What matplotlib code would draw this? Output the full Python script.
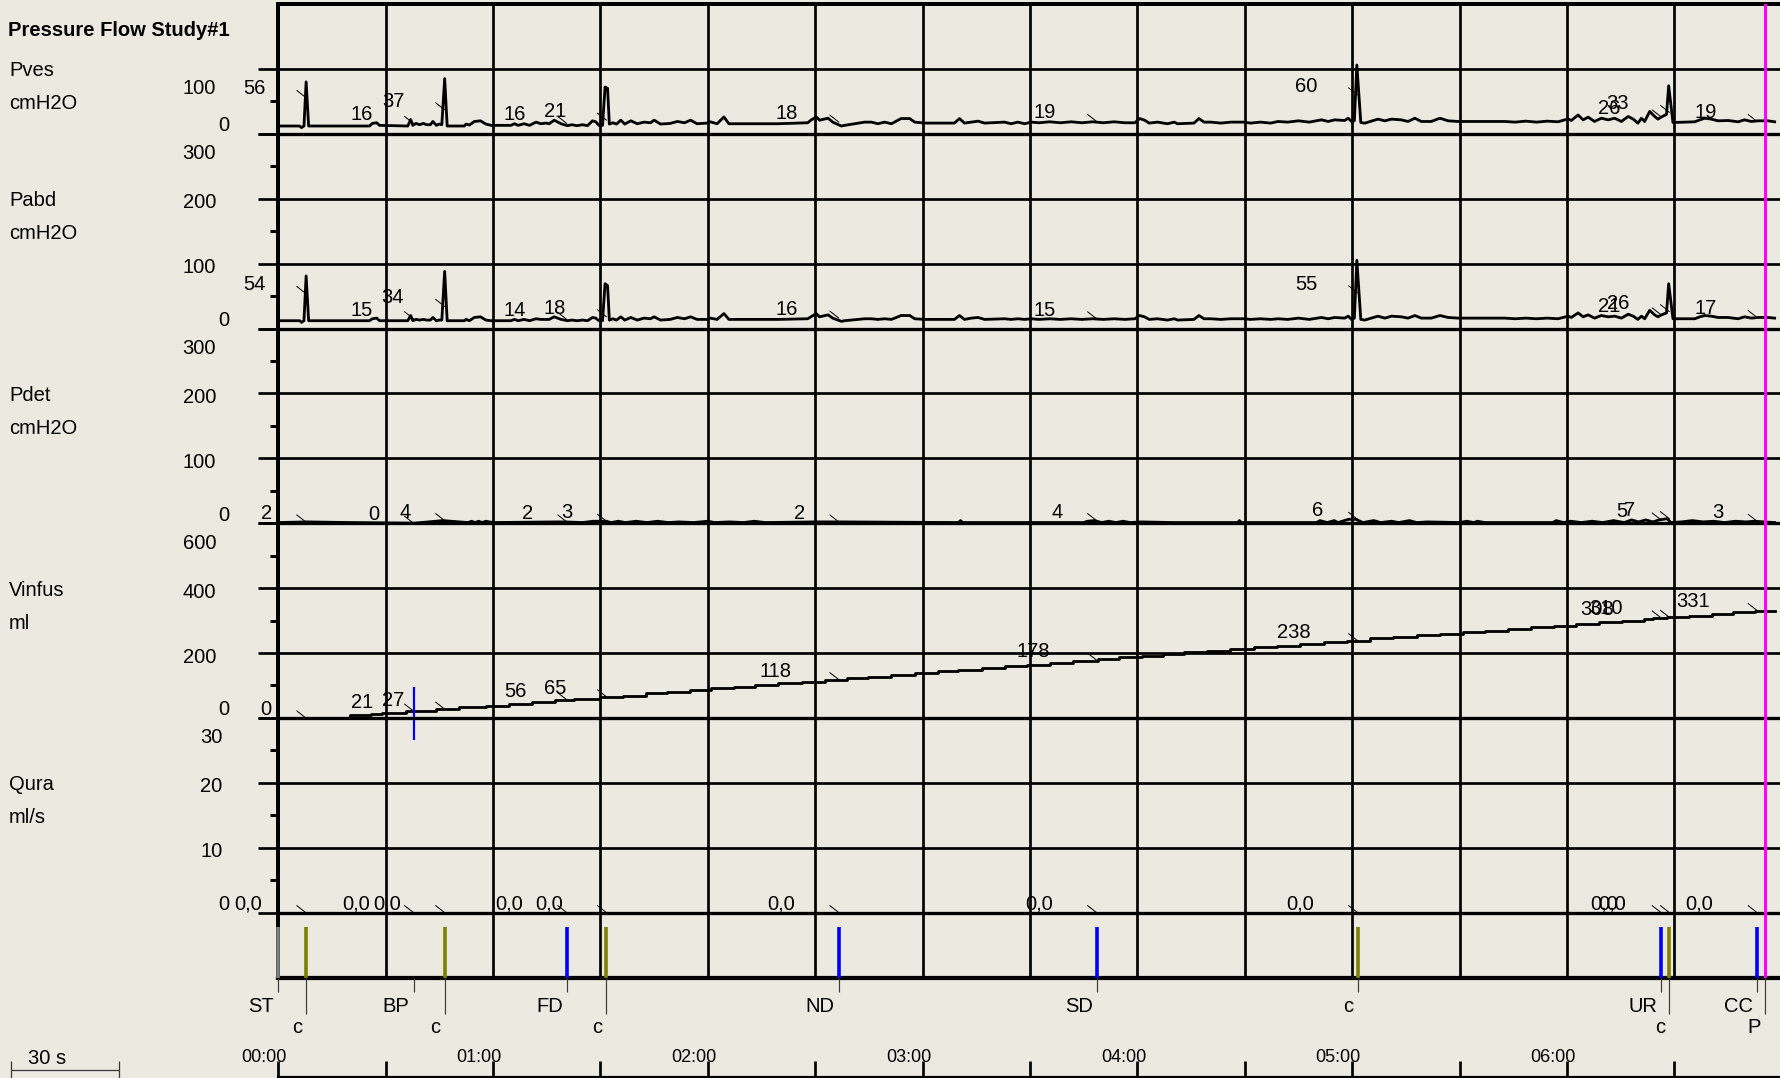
import matplotlib
matplotlib.use("Agg")
import matplotlib.pyplot as plt

# ---- event marks (s from start) ----
EVENT_T = [0, 7.7, 37.8, 46.5, 80.6, 91.7, 156.6, 228.6, 301.5, 386.3, 388.6, 413.1, 415.3]
EVENT_CODE = ["ST", "c", "BP", "c", "FD", "c", "ND", "SD", "c", "UR", "c", "CC", "P"]

# values printed at each event (ST and P carry none)
PVES_AT = ["56", "16", "37", "16", "21", "18", "19", "60", "26", "33", "19"]
PABD_AT = ["54", "15", "34", "14", "18", "16", "15", "55", "21", "26", "17"]
PDET_AT = ["2", "0", "4", "2", "3", "2", "4", "6", "5", "7", "3"]
VINFUS_AT = ["0", "21", "27", "56", "65", "118", "178", "238", "308", "310", "331"]
QURA_AT = ["0,0", "0,0", "0,0", "0,0", "0,0", "0,0", "0,0", "0,0", "0,0", "0,0", "0,0"]

# ---- traces ----
T_PRESS = [0, 6.0, 6.5, 7.2, 7.8, 8.5, 25.5, 26.3, 27.5, 28.3, 36.2, 37.0, 37.6, 38.5, 39.5,
           40.5, 41.5, 42.5, 43.2, 44.2, 45.0, 45.7, 46.5, 47.2, 52.0, 52.5, 53.4, 54.8, 56.5,
           58.0, 59.5, 65.0, 66.0, 67.0, 68.7, 70.2, 72.0, 73.4, 74.8, 75.7, 77.1, 79.0, 80.8,
           82.0, 83.5, 85.0, 86.4, 87.8, 88.7, 89.6, 90.6, 91.3, 92.0, 92.5, 93.5, 94.5, 95.7,
           96.8, 98.5, 100.3, 102.2, 104.0, 105.0, 106.8, 109.5, 111.5, 113.5, 115.2, 117.0,
           119.8, 120.7, 122.6, 124.5, 125.9, 139.6,
           147.9, 148.8, 150.3, 151.2, 153.6, 154.9, 157.3, 158.2, 163.8, 165.7, 167.5, 169.4,
           171.3, 174.0, 176.4, 177.8, 180.6, 188.9, 190.3, 191.7, 193.6, 195.5, 197.3, 202.9,
           204.7, 206.6, 208.5, 210.3, 212.5, 215.5, 218.5, 221.5, 224.5, 227.5, 230.5, 233.5,
           236.5, 239.3, 240.6, 242.0, 243.3, 245.6, 248.4, 250.3, 251.2, 255.8, 257.2, 258.6,
           260.5, 263.3, 266.1, 269.8, 271.6, 274.4, 277.2, 279.3,
           282.0, 285.0, 288.0, 291.4, 293.3, 295.1, 297.9, 298.9, 299.8, 300.6, 301.3, 302.4,
           303.5, 307.2, 309.1, 311.0, 313.7, 315.6, 317.5, 319.3, 322.1, 324.5, 326.8, 329.6,
           342.6, 345.5, 348.5, 351.5, 354.5, 357.5, 360.3, 361.2, 363.1, 364.5, 365.9, 367.7,
           369.6, 371.5, 373.3, 375.2, 377.1, 378.5, 379.8, 380.8, 381.7, 383.1, 384.5, 385.4,
           386.4, 387.8, 388.4, 389.6, 395.7, 397.1, 398.5, 400.3, 402.2, 405.0, 407.8, 409.6,
           411.5, 413.4, 416.1, 418.0]
PVES = [12, 12, 9.5, 12, 80, 12, 12, 16, 17, 13, 12, 22, 13, 16, 14,
        16, 14, 14, 19, 13, 15, 14, 85, 12, 12, 15, 13.5, 19, 20,
        15, 13, 13, 15.5, 13, 15.5, 13, 18, 15.5, 16.5, 15.5, 21, 15.5, 12.5,
        14, 12.5, 14, 12.5, 20, 18.5, 13, 13, 72, 70, 15, 17, 15, 21,
        15, 20, 15.5, 18, 17, 21, 15, 16, 19, 17, 21, 15.5,
        16.5, 18.5, 15.5, 26, 15.5, 15.5,
        17, 21, 26, 21, 24, 18, 12, 13, 18, 18, 15.5, 18,
        15.5, 23.5, 23.5, 18, 16.5, 16.5, 23.5, 16.5, 18, 19.5, 16.5, 18,
        15.5, 18, 15.5, 18, 17, 18.5, 17, 18.5, 17, 18.5, 17, 18.5,
        17, 17, 23.5, 21, 16.5, 18, 15.5, 18, 15.5, 16.5, 23.5, 18,
        18, 16.5, 18, 18, 16.5, 18, 16.5, 19,
        18, 20, 18, 21.5, 19, 21.5, 20.5, 24, 19, 20, 106, 17.4,
        16.4, 22.6, 20, 22.6, 21.5, 19, 24, 19, 19, 24, 20, 19,
        19, 18, 19.5, 18, 19.5, 18.5, 23, 20.5, 29, 21.5, 25.6, 19,
        24, 21.5, 24, 19, 26.7, 22.6, 16.4, 24, 19, 34.4, 26.7, 22.6,
        26, 30, 74, 17.4, 18.5, 21.5, 24, 22.6, 20, 20.5, 18.5, 21.5,
        19, 20, 20, 18.5]
PABD = [12, 12, 9.5, 12, 81, 12, 12, 15, 16, 12, 12, 20, 12, 14, 13,
        14, 13, 13, 17, 12, 13, 13, 88, 12, 12, 14, 12, 17, 18,
        13, 12, 12, 14, 12, 14, 12, 15, 14, 14, 14, 18, 14, 12,
        13, 12, 13, 12, 17, 16, 12, 12, 69, 66, 13, 15, 13, 18,
        13, 17, 13, 16, 15, 18, 13, 14, 17, 15, 18, 14,
        14, 16, 14, 23, 14, 14,
        15, 18, 23, 18, 21, 16, 11, 12, 15, 15, 14, 15,
        14, 20, 20, 15, 14, 14, 20, 14, 16, 17, 14, 15,
        14, 15, 14, 15, 14, 15, 14, 15, 14, 15, 14, 15,
        14, 15, 20, 18, 14, 15, 13, 15, 13, 14, 20, 15,
        15, 14, 15, 15, 14, 15, 14, 15,
        14, 16, 14, 17, 15, 17, 16, 19, 14, 16, 105, 14,
        13, 19, 16, 19, 18, 16, 20, 16, 16, 20, 17, 16,
        16, 15, 16, 15, 16, 15, 19, 17, 24, 18, 21, 16,
        20, 18, 19, 16, 22, 19, 14, 19, 15, 28, 21, 18,
        21, 24, 69, 15, 15, 18, 20, 19, 17, 17, 15, 18,
        16, 17, 17, 16]

T_PDET = [0, 8, 20, 38, 46, 53, 54, 55, 56, 57, 58, 60, 78, 80, 85, 88, 91.6, 93, 95, 97, 100,
          103, 106, 109, 112, 116, 120, 122, 126, 130, 133, 136, 150, 157, 190, 190.6, 191.2,
          225, 226, 228, 230, 232, 234, 236, 238, 241, 250, 268, 268.5, 269, 290, 291, 293, 295,
          296, 299, 301, 303, 306, 308, 311, 313, 316, 318, 321, 330, 332, 334, 335, 337, 356,
          357, 359, 361, 364, 367, 370, 373, 376, 378, 380, 382, 384, 385.7, 388, 389, 392, 395,
          398, 401, 404, 407, 410, 412.4, 415, 418]
PDET = [1, 2, 1, 0, 4, 1, 3, 1, 3, 1, 3, 1, 2, 2, 1, 3, 3, 1, 3, 1, 3,
        1, 3, 1, 2, 1, 3, 1, 2, 1, 3, 1, 2, 2, 1, 4, 1,
        1, 3, 4, 1, 3, 1, 3, 1, 2, 1, 1, 4, 1, 1, 4, 1, 4,
        1, 6, 6, 1, 4, 1, 3, 1, 4, 1, 2, 1, 3, 1, 3, 1, 1,
        4, 1, 3, 1, 3, 1, 4, 1, 5, 2, 5, 2, 5, 7, 1, 2, 4,
        2, 3, 1, 3, 2, 3, 2, 1]

T_VINFUS = [0, 20, 26, 29, 35.6, 44, 50.5, 58, 64.4, 70.8, 77.2, 82.5, 89.8, 96.2, 102.6, 108.5,
            114.9, 120.8, 127.2, 133.1, 139.5, 146.4, 152.8, 159, 164.8, 171.2, 177.8, 184.2,
            190, 196.5, 202.9, 209.3, 215.7, 222, 229, 234.9, 241.3, 247.2, 253, 259.5, 266,
            272.5, 279, 285.5, 292, 298.5, 305, 311.5, 318, 324.5, 331, 337, 343.5, 350, 356.5,
            362.5, 369, 375.5, 381.5, 384, 388, 394, 400.5, 406.5, 412.5, 418]
VINFUS = [0, 8, 12, 16, 21, 28, 33, 38, 43, 48, 55, 59, 65, 69, 76, 81,
          86, 91, 96, 101.5, 108, 112, 117, 122, 127, 132, 137, 143,
          148, 153, 159, 164, 169, 176, 181, 187, 192, 197, 202, 207, 212,
          217, 222, 228, 233, 238, 245, 250, 255, 259, 264, 269, 274, 279, 284,
          289, 294, 299, 305, 308, 311, 315, 320, 325, 329, 329]

T_QURA = [0, 418]
QURA = [0, 0]

CH_NAME = ["Pves", "Pabd", "Pdet", "Vinfus", "Qura"]
CH_UNIT = ["cmH2O", "cmH2O", "cmH2O", "ml", "ml/s"]
CH_TOP = [100, 300, 300, 600, 30]
CH_STEP = [100, 100, 100, 200, 10]

assert len(T_PRESS) == len(PVES) == len(PABD)
assert len(T_PDET) == len(PDET)
assert len(T_VINFUS) == len(VINFUS)

# ---- layout (pixels of the 1781x1078 picture) ----
BG = "#ECE9E0"
W, H, DPI = 1781, 1078, 100
X0, PX_S = 278.2, 3.58          # left frame, pixels per second
Y0, ROW = 4.0, 64.9             # top frame, height of one grid row
T_END = (W - X0) / PX_S
PT = 72 / DPI                   # points per pixel
FS = 14.5

plt.rcParams["font.family"] = ["Liberation Sans", "DejaVu Sans"]
plt.rcParams["font.size"] = FS

fig = plt.figure(figsize=(W / DPI, H / DPI), dpi=DPI, facecolor=BG)


def px_axes(left, top, right, bottom, z=1):
    ax = fig.add_axes([left / W, 1 - bottom / H, (right - left) / W, (bottom - top) / H], zorder=z)
    ax.patch.set_visible(False)
    for s in ax.spines.values():
        s.set_visible(False)
    ax.set_xticks([])
    ax.set_yticks([])
    ax.set_xlim(0, T_END)
    return ax


def label_w(s):
    # rough printed width in px of a value label
    return sum(5.5 if ch == "," else 11.5 for ch in s)


# background grid
grid = px_axes(X0, Y0, W, Y0 + 15 * ROW)
grid.set_ylim(15, 0)
t = 30
while t < T_END:
    grid.axvline(t, color="k", lw=2.7 * PT)
    t += 30
grid.axvline(0, color="k", lw=4 * PT, clip_on=False)
grid.axhline(0, color="k", lw=4 * PT, clip_on=False)
grid.axhline(15, color="k", lw=4.2 * PT, clip_on=False)

fig.text(8.4 / W, 1 - 30 / H, "Pressure Flow Study#1", fontweight="bold", ha="left", va="center")

marked_t = [t for t, c in zip(EVENT_T, EVENT_CODE) if c not in ("ST", "P")]
traces = [(T_PRESS, PVES, PVES_AT), (T_PRESS, PABD, PABD_AT), (T_PDET, PDET, PDET_AT),
          (T_VINFUS, VINFUS, VINFUS_AT), (T_QURA, QURA, QURA_AT)]

row = 1
axes = {}
for name, unit, top, step, (tt, vv, labs) in zip(CH_NAME, CH_UNIT, CH_TOP, CH_STEP, traces):
    n = top // step
    ax = px_axes(X0, Y0 + row * ROW, W, Y0 + (row + n) * ROW, z=2)
    ax.set_ylim(0, top)
    majors = list(range(0, top + 1, step))
    ax.set_yticks(majors)
    ax.set_yticks([m + step / 2 for m in majors[:-1]], minor=True)
    ax.tick_params(axis="y", which="major", direction="out", length=20 * PT, width=2.7 * PT,
                   labelleft=False)
    ax.tick_params(axis="y", which="minor", direction="out", length=8 * PT, width=3 * PT)
    for m in majors:
        ax.axhline(m, color="k", lw=(3.3 if m == 0 else 2.7) * PT, clip_on=False, zorder=1)
        dy = -20 if m == top else (8 if m == 0 else -4)
        ax.annotate(str(m), xy=(235.5 - 6.5 * len(str(m)), m), xycoords=("figure pixels", "data"),
                    xytext=(0, dy), textcoords="offset pixels", ha="right", va="center")
    name_v = majors[-1] if n == 1 else majors[-2]
    ax.annotate(name, xy=(9, name_v), xycoords=("figure pixels", "data"), xytext=(0, -2),
                textcoords="offset pixels", ha="left", va="center")
    ax.annotate(unit, xy=(9, name_v), xycoords=("figure pixels", "data"), xytext=(0, -35),
                textcoords="offset pixels", ha="left", va="center")

    ax.plot(tt, vv, color="k", lw=2.8 * PT, clip_on=False, zorder=3,
            drawstyle="steps-post" if name == "Vinfus" else "default")

    for et, lab in zip(marked_t, labs):
        v = float(lab.replace(",", "."))
        ax.annotate("", xy=(et, v), xytext=(-9, 7), textcoords="offset pixels",
                    arrowprops=dict(arrowstyle="-", color="k", lw=1.0 * PT, shrinkA=0, shrinkB=0),
                    annotation_clip=False)
        ax.annotate(lab, xy=(et, v), xytext=(-(27.5 + 0.565 * label_w(lab)), 3),
                    textcoords="offset pixels", ha="right", va="baseline", annotation_clip=False)
    axes[name] = ax
    row += n

# event row
ev = px_axes(X0, Y0 + 14 * ROW, W, Y0 + 15 * ROW, z=3)
ev.set_ylim(0, 1)
bar_top = (Y0 + 15 * ROW - 927) / ROW
colors = {"ST": "#808080", "c": "#808000", "P": "#FF00FF"}
overlay = px_axes(X0, Y0, W, Y0 + 15 * ROW, z=6)
overlay.set_ylim(15, 0)
prev = None
for et, code in zip(EVENT_T, EVENT_CODE):
    col = colors.get(code, "#0000FF")
    if code == "BP":
        axes["Vinfus"].vlines(et, -68, 95, color=col, lw=2.2 * PT, clip_on=False, zorder=4)
    elif code == "P":
        overlay.axvline(et, color=col, lw=3 * PT)
    else:
        ev.vlines(et, 0, bar_top, color=col, lw=3.6 * PT, clip_on=False)
    lower = prev is not None and et - prev < 15
    ev.vlines(et, -(36 if lower else 14) / ROW, 0, color="#3c3c3c", lw=1.2 * PT, clip_on=False)
    ev.annotate(code, xy=(et, 0), xytext=(-4, -(55 if lower else 34)), textcoords="offset pixels",
                ha="right", va="baseline", annotation_clip=False)
    prev = et

# time axis
tax = px_axes(X0, 1061, W, 1077, z=3)
tax.set_ylim(0, 1)
ticks = []
t = 0
while t < T_END:
    ticks.append(t)
    t += 30
tax.vlines(ticks, 0, 1, color="k", lw=2.7 * PT, clip_on=False)
tax.axhline(0, color="k", lw=2.2 * PT, clip_on=False)
for t in ticks[::2]:
    tax.annotate(f"{t // 60:02d}:{t % 60:02d}", xy=(t, 1), xytext=(-14, 3), textcoords="offset pixels",
                 ha="center", va="center", fontsize=13, annotation_clip=False)

# 30 s scale bar
sb = fig.add_axes([11.5 / W, 1 - 1078 / H, 30 * PX_S / W, 17 / H])
sb.set_axis_off()
sb.set_xlim(0, 30)
sb.set_ylim(0, 1)
sb.hlines(8 / 17, 0, 30, color="#3c3c3c", lw=1.3 * PT, clip_on=False)
sb.vlines([0, 30], 0, 1, color="#3c3c3c", lw=1.3 * PT, clip_on=False)
sb.annotate("30 s", xy=(0, 1), xytext=(17, 2), textcoords="offset pixels", ha="left", va="center",
            annotation_clip=False)

fig.savefig("out.png", dpi=DPI, facecolor=BG)
